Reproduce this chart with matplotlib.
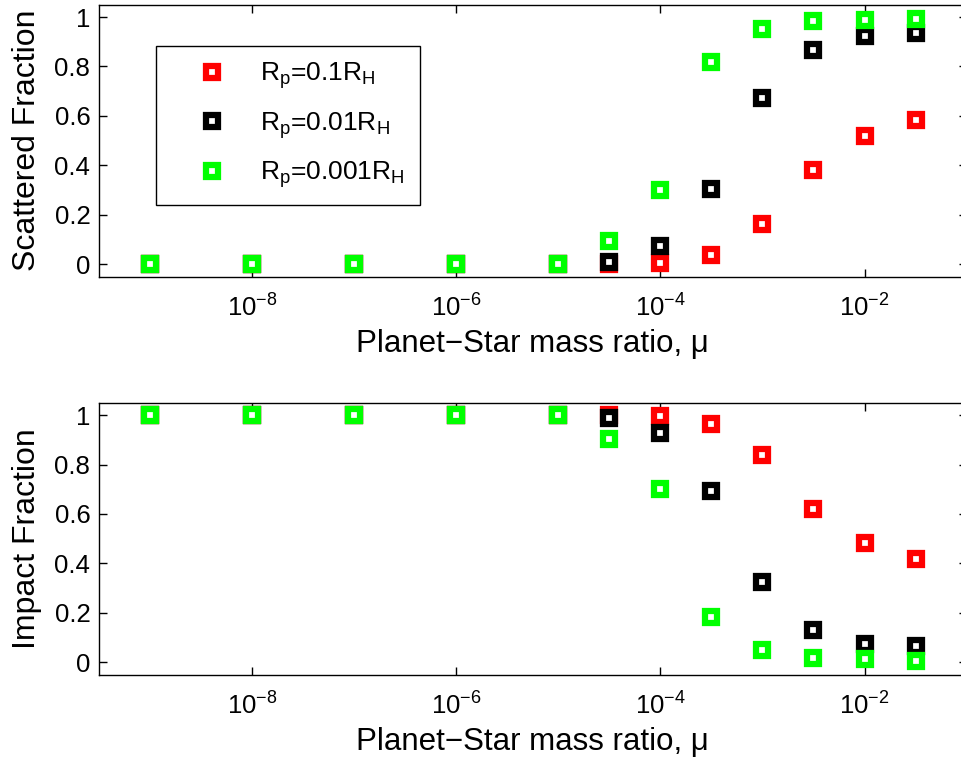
#!/usr/bin/env python
import matplotlib
matplotlib.use('Agg')
import matplotlib.pyplot as plt
from matplotlib.ticker import FixedLocator, NullLocator, FormatStrFormatter

plt.rcParams['font.family'] = ['Liberation Sans', 'DejaVu Sans']
plt.rcParams['mathtext.fontset'] = 'custom'
plt.rcParams['mathtext.rm'] = 'Liberation Sans'
plt.rcParams['mathtext.it'] = 'Liberation Sans:italic'
plt.rcParams['mathtext.default'] = 'regular'

# planet-star mass ratio (half decades above 1e-5)
mu = [1e-9, 1e-8, 1e-7, 1e-6, 1e-5, 10**-4.5, 1e-4, 10**-3.5, 1e-3, 10**-2.5, 1e-2, 10**-1.5]

labels = [r'R$_p$=0.1R$_H$', r'R$_p$=0.01R$_H$', r'R$_p$=0.001R$_H$']
colors = ['#ff0000', '#000000', '#00ff00']

# scattered fraction
scat_01 = [0, 0, 0, 0, 0, 0.0, 0.004, 0.038, 0.162, 0.380, 0.517, 0.582]
scat_001 = [0, 0, 0, 0, 0, 0.011, 0.074, 0.305, 0.674, 0.867, 0.922, 0.934]
scat_0001 = [0, 0, 0, 0, 0, 0.095, 0.300, 0.817, 0.950, 0.984, 0.988, 0.993]

# impact fraction
imp_01 = [1, 1, 1, 1, 1, 1.0, 0.996, 0.962, 0.838, 0.619, 0.482, 0.419]
imp_001 = [1, 1, 1, 1, 1, 0.987, 0.926, 0.694, 0.326, 0.132, 0.075, 0.066]
imp_0001 = [1, 1, 1, 1, 1, 0.903, 0.700, 0.183, 0.050, 0.016, 0.012, 0.007]

fig = plt.figure(figsize=(9.62, 7.66), dpi=100)
ax1 = fig.add_axes([0.1026, 0.6388, 0.9022, 0.3551])
ax2 = fig.add_axes([0.1026, 0.1192, 0.9022, 0.3551])

def setup(ax, ylabel):
    ax.set_xscale('log')
    ax.set_xlim(10**-9.5, 10**-1)
    ax.set_ylim(-0.05, 1.05)
    ax.xaxis.set_major_locator(FixedLocator([1e-8, 1e-6, 1e-4, 1e-2]))
    ax.xaxis.set_minor_locator(NullLocator())
    ax.set_yticks([0, 0.2, 0.4, 0.6, 0.8, 1])
    ax.yaxis.set_major_formatter(FormatStrFormatter('%g'))
    ax.tick_params(direction='in', length=6, width=1, labelsize=18.5,
                   top=True, right=True)
    ax.tick_params(axis='x', pad=13)
    ax.tick_params(axis='y', pad=6)
    for s in ax.spines.values():
        s.set_linewidth(1.0)
    ax.set_xlabel('Planet\u2212Star mass ratio, \u03bc', fontsize=22.5, labelpad=5)
    ax.set_ylabel(ylabel, fontsize=23, labelpad=9)

mk = dict(linestyle='none', marker='s', markersize=8.8, markeredgewidth=4.5,
          markerfacecolor='white')

for ys, c, lab in zip([scat_01, scat_001, scat_0001], colors, labels):
    ax1.plot(mu, ys, markeredgecolor=c, label=lab, **mk)
for ys, c in zip([imp_01, imp_001, imp_0001], colors):
    ax2.plot(mu, ys, markeredgecolor=c, **mk)

setup(ax1, 'Scattered Fraction')
setup(ax2, 'Impact Fraction')

leg = ax1.legend(loc='upper left', bbox_to_anchor=(0.0657, 0.849), borderaxespad=0,
                 fontsize=19, handlelength=3.2, handletextpad=0.22, borderpad=0.55,
                 labelspacing=0.72, fancybox=False, framealpha=1, edgecolor='black')
leg.get_frame().set_linewidth(1.0)

plt.savefig('out.png', dpi=100)
